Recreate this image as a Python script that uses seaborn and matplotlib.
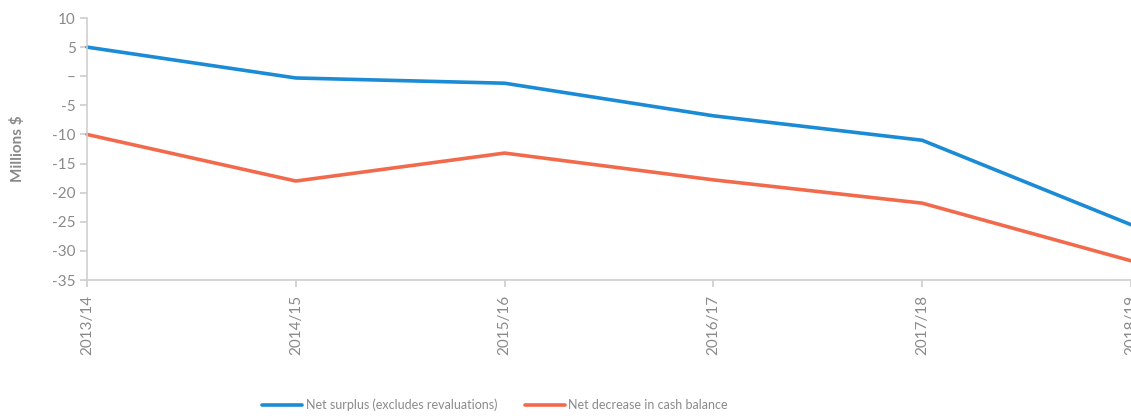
import matplotlib
matplotlib.use("Agg")
import matplotlib.pyplot as plt
import seaborn as sns
import pandas as pd

years = ["2013/14", "2014/15", "2015/16", "2016/17", "2017/18", "2018/19"]
net_surplus = [5.0, -0.3, -1.2, -6.8, -11.0, -25.5]
net_cash_decrease = [-10.0, -18.0, -13.2, -17.8, -21.8, -31.7]
series_names = ["Net surplus (excludes revaluations)", "Net decrease in cash balance"]
y_ticks = [10, 5, 0, -5, -10, -15, -20, -25, -30, -35]
y_tick_labels = ["10", "5", "–", "-5", "-10", "-15", "-20", "-25", "-30", "-35"]

df = pd.DataFrame({
    "pos": list(range(len(years))) * 2,
    "value": net_surplus + net_cash_decrease,
    "series": [series_names[0]] * len(years) + [series_names[1]] * len(years),
})

sns.set_theme(style="white")
plt.rcParams["font.family"] = ["Lato", "DejaVu Sans"]

grey = "#8a8a8a"
axis_grey = "#cfcfcf"
palette = {series_names[0]: "#1a8bd4", series_names[1]: "#f26a4c"}

fig = plt.figure(figsize=(11.31, 4.18), dpi=100)
ax = fig.add_axes([87 / 1131, 1 - 280 / 418, (1131 - 87) / 1131, 262 / 418])

sns.lineplot(data=df, x="pos", y="value", hue="series", palette=palette,
             linewidth=2.6, ax=ax, legend=False, clip_on=False)

ax.set_xlim(0, len(years) - 1)
ax.set_ylim(-35, 10)
ax.set_xticks(range(len(years)))
ax.set_xticklabels(years, rotation=90, color=grey, fontsize=11)
ax.set_yticks(y_ticks)
ax.set_yticklabels(y_tick_labels, color=grey, fontsize=11)
ax.set_xlabel("")
ax.set_ylabel("Millions $", color=grey, fontsize=11, fontweight="bold", labelpad=20)

for side in ["top", "right"]:
    ax.spines[side].set_visible(False)
for side in ["left", "bottom"]:
    ax.spines[side].set_color(axis_grey)
    ax.spines[side].set_linewidth(1.2)
ax.tick_params(axis="y", length=5, color=axis_grey, pad=3, left=True)
ax.tick_params(axis="x", length=5, color=axis_grey, pad=6, bottom=True)

handles = [plt.Line2D([], [], color=palette[n], linewidth=2.6) for n in series_names]
fig.legend(handles, series_names, loc="center", bbox_to_anchor=(495 / 1131, 1 - 405 / 418),
           ncol=2, frameon=False, fontsize=9, labelcolor=grey, handlelength=3.2,
           handletextpad=0.3, columnspacing=2.2)

fig.savefig("out.png", dpi=100)
